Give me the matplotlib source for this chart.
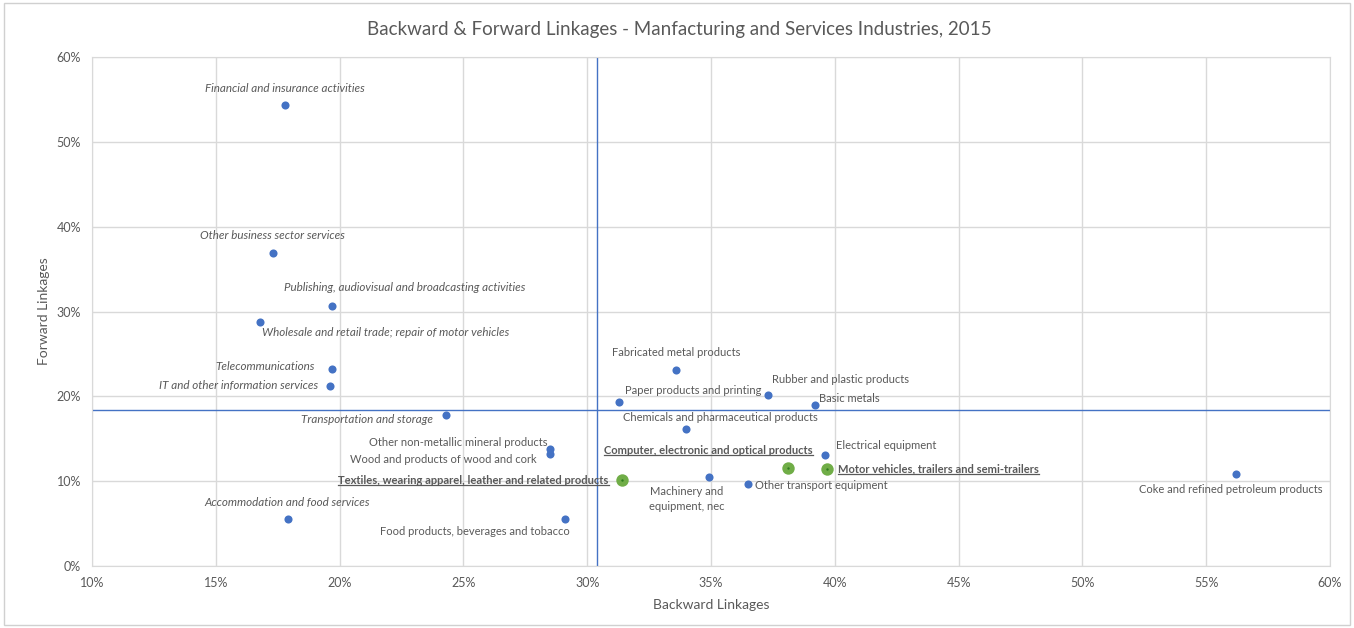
import matplotlib.pyplot as plt
from matplotlib.lines import Line2D
from matplotlib.patches import Rectangle
from matplotlib.ticker import PercentFormatter

plt.rcParams['font.family'] = ['Lato', 'DejaVu Sans']

# Data (share of output, %)
industries = [
    "Financial and insurance activities",
    "Other business sector services",
    "Publishing, audiovisual and broadcasting activities",
    "Wholesale and retail trade; repair of motor vehicles",
    "Telecommunications",
    "IT and other information services",
    "Transportation and storage",
    "Accommodation and food services",
    "Other non-metallic mineral products",
    "Wood and products of wood and cork",
    "Textiles, wearing apparel, leather and related products",
    "Food products, beverages and tobacco",
    "Fabricated metal products",
    "Paper products and printing",
    "Rubber and plastic products",
    "Basic metals",
    "Chemicals and pharmaceutical products",
    "Electrical equipment",
    "Computer, electronic and optical products",
    "Motor vehicles, trailers and semi-trailers",
    "Machinery and\nequipment, nec",
    "Other transport equipment",
    "Coke and refined petroleum products",
]
backward = [17.8, 17.3, 19.7, 16.8, 19.7, 19.6, 24.3, 17.9, 28.5, 28.5, 31.4, 29.1,
            33.6, 31.3, 37.3, 39.2, 34.0, 39.6, 38.1, 39.7, 34.9, 36.5, 56.2]
forward = [54.3, 36.9, 30.7, 28.8, 23.2, 21.2, 17.8, 5.5, 13.8, 13.2, 10.1, 5.5,
           23.1, 19.3, 20.2, 19.0, 16.2, 13.1, 11.5, 11.4, 10.5, 9.7, 10.9]
group = ["service"] * 8 + ["manuf", "manuf", "focus", "manuf", "manuf", "manuf", "manuf",
         "manuf", "manuf", "manuf", "focus", "focus", "manuf", "manuf", "manuf"]

avg_backward = 30.4
avg_forward = 18.4

# label offsets in pixels (dx, dy down), alignment
label_pos = {
    0: (0, -17, "center"), 1: (0, -17, "center"), 2: (73, -18, "center"),
    3: (2, 11, "left"), 4: (-17, -3, "right"), 5: (-12, -1, "right"),
    6: (-13, 5, "right"), 7: (0, -17, "center"), 8: (-3, -6, "right"),
    9: (-13, 5, "right"), 10: (-13, 0, "right"), 11: (5, 12, "right"),
    12: (0, -18, "center"), 13: (6, -12, "left"), 14: (4, -15, "left"),
    15: (4, -6, "left"), 16: (34, -11, "center"), 17: (11, -9, "left"),
    18: (25, -18, "right"), 19: (11, 0, "left"), 20: (-22, 22, "center"),
    21: (7, 2, "left"), 22: (-5, 16, "center"),
}

blue = "#4472c4"
green = "#70ad47"
grid_c = "#d9d9d9"
txt_c = "#595959"

fig = plt.figure(figsize=(13.54, 6.28), dpi=100)
fig.patches.append(Rectangle((0.003, 0.005), 0.994, 0.99, transform=fig.transFigure,
                             fill=False, edgecolor="#d0d0d0", linewidth=1))
ax = fig.add_axes([92 / 1354, 1 - 566 / 628, (1330 - 92) / 1354, (566 - 57) / 628])

ax.set_xlim(10, 60)
ax.set_ylim(0, 60)
ax.set_xticks(range(10, 61, 5))
ax.set_yticks(range(0, 61, 10))
ax.xaxis.set_major_formatter(PercentFormatter(decimals=0))
ax.yaxis.set_major_formatter(PercentFormatter(decimals=0))
ax.grid(True, color=grid_c, linewidth=1)
ax.set_axisbelow(True)
for s in ax.spines.values():
    s.set_color(grid_c)
ax.tick_params(length=0, colors=txt_c, labelsize=9, pad=8)

ax.axvline(avg_backward, color=blue, linewidth=1, zorder=2)
ax.axhline(avg_forward, color=blue, linewidth=1, zorder=2)

xs_b = [b for b, g in zip(backward, group) if g != "focus"]
ys_b = [f for f, g in zip(forward, group) if g != "focus"]
xs_g = [b for b, g in zip(backward, group) if g == "focus"]
ys_g = [f for f, g in zip(forward, group) if g == "focus"]
ax.scatter(xs_b, ys_b, s=34, color=blue, zorder=3, linewidths=0)
ax.scatter(xs_g, ys_g, s=80, color=green, zorder=3, linewidths=0)
ax.scatter(xs_g, ys_g, s=3, color="#2e7d1e", zorder=4, linewidths=0)

underline = []
for i, name in enumerate(industries):
    dx, dy, ha = label_pos[i]
    kw = dict(fontsize=8, color=txt_c, ha=ha, va="center")
    if group[i] == "service":
        kw["style"] = "italic"
        kw["fontsize"] = 8.4
    if group[i] == "focus":
        kw["weight"] = "bold"
    t = ax.annotate(name, (backward[i], forward[i]), xytext=(dx * 0.72, -dy * 0.72),
                    textcoords="offset points", linespacing=1.35, **kw)
    if group[i] == "focus":
        underline.append(t)

fig.text(679 / 1354, 1 - 30 / 628, "Backward & Forward Linkages - Manfacturing and Services Industries, 2015",
         ha="center", va="center", fontsize=13.5, color=txt_c)
fig.text(711 / 1354, 1 - 605 / 628, "Backward Linkages", ha="center", va="center",
         fontsize=10, color=txt_c)
fig.text(44 / 1354, 1 - 311 / 628, "Forward Linkages", ha="center", va="center",
         fontsize=10, color=txt_c, rotation=90)

fig.canvas.draw()
r = fig.canvas.get_renderer()
for t in underline:
    bb = t.get_window_extent(r)
    y = (bb.y0 + 1) / fig.bbox.height
    fig.lines.append(Line2D([bb.x0 / fig.bbox.width, bb.x1 / fig.bbox.width], [y, y],
                            transform=fig.transFigure, color=txt_c, linewidth=0.9))

fig.savefig("out.png", dpi=100)
